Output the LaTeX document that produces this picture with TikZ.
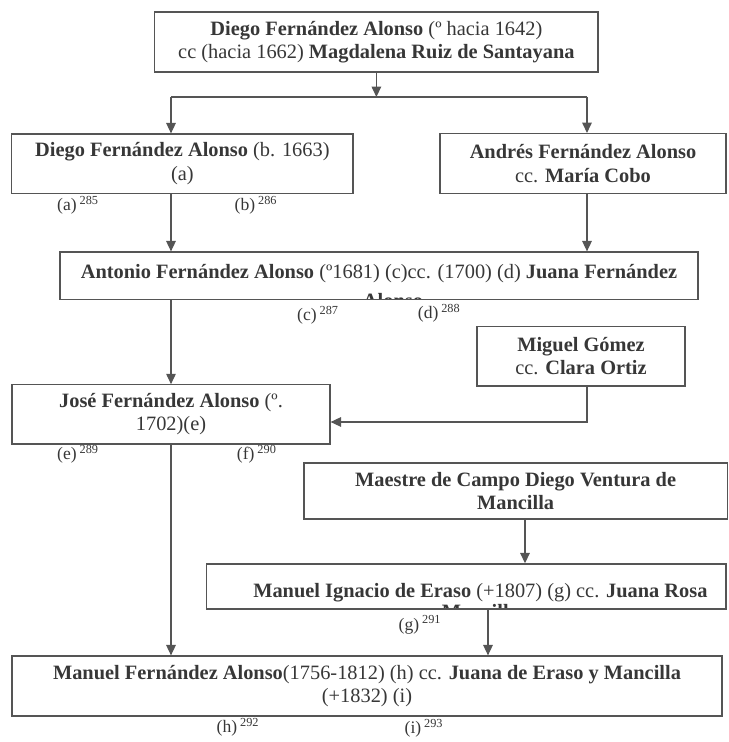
\documentclass[tikz,border=0pt]{standalone}
\usepackage{fontspec}
\setmainfont{Liberation Serif}
\usetikzlibrary{arrows.meta}
\definecolor{inkgray}{RGB}{55,55,55}
\definecolor{rulegray}{RGB}{85,85,85}

\begin{document}
\begin{tikzpicture}[
    person/.style={draw=rulegray, line width=0.9pt, text=inkgray, align=center, inner sep=0pt, font=\fontsize{14.5}{16.5}\selectfont},
    clipline/.style={text=inkgray, inner sep=0pt, anchor=base, font=\fontsize{14.5}{16.5}\selectfont},
    note/.style={text=inkgray, inner sep=0pt, font=\fontsize{12.5}{14}\selectfont},
    link/.style={draw=rulegray, line width=0.8pt, -{Triangle[length=0.26cm,width=0.24cm]}}
]
    \useasboundingbox (0,0) rectangle (18.2,18.55);

    % First couple
    \node[person, minimum width=11.08cm, minimum height=1.5cm] (diego1) at (9.41,17.5) {
        \textbf{Diego Fernández Alonso} (º hacia 1642)\\cc (hacia 1662) \textbf{Magdalena Ruiz de Santayana}
    };

    % Children
    \node[person, minimum width=8.53cm, minimum height=1.48cm] (diego2) at (4.56,14.46) {
        \textbf{Diego Fernández Alonso} (b. 1663)\\(a)
    };
    \node[person, minimum width=7.15cm, minimum height=1.5cm] (andres) at (14.575,14.46) {
        \textbf{Andrés Fernández Alonso}\\cc. \textbf{María Cobo}
    };
    \node[note] (la) at (1.95,13.42) {(a)\,\textsuperscript{285}};
    \node[note] (lb) at (6.4,13.42) {(b)\,\textsuperscript{286}};

    % Antonio (second line cut by the frame)
    \node[person, minimum width=15.95cm, minimum height=1.18cm, path picture={
        \node[clipline] at ([yshift=-0.675cm]path picture bounding box.north) {\textbf{Antonio Fernández Alonso} (º1681) (c)cc. (1700) (d) \textbf{Juana Fernández}};
        \node[clipline] at ([xshift=0.35cm,yshift=-1.40cm]path picture bounding box.north) {\textbf{Alonso}};
    }] (antonio) at (9.475,11.66) {};
    \node[note] (lc) at (7.95,10.66) {(c)\,\textsuperscript{287}};
    \node[note] (ld) at (10.98,10.72) {(d)\,\textsuperscript{288}};

    \node[person, minimum width=5.2cm, minimum height=1.48cm] (miguel) at (14.525,9.64) {
        \textbf{Miguel Gómez}\\cc. \textbf{Clara Ortiz}
    };
    \node[person, minimum width=7.95cm, minimum height=1.48cm] (jose) at (4.275,8.19) {
        \textbf{José Fernández Alonso} (º.\\1702)(e)
    };
    \node[note] (le) at (1.95,7.2) {(e)\,\textsuperscript{289}};
    \node[note] (lf) at (6.42,7.2) {(f)\,\textsuperscript{290}};

    \node[person, minimum width=10.58cm, minimum height=1.4cm] (maestre) at (12.89,6.275) {
        \textbf{Maestre de Campo Diego Ventura de}\\\textbf{Mancilla}
    };

    % Manuel Ignacio (second line cut by the frame)
    \node[person, minimum width=12.98cm, minimum height=1.125cm, path picture={
        \node[clipline] at ([xshift=0.35cm,yshift=-0.85cm]path picture bounding box.north) {\textbf{Manuel Ignacio de Eraso} (+1807) (g) cc. \textbf{Juana Rosa}};
        \node[clipline] at ([xshift=0.35cm,yshift=-1.36cm]path picture bounding box.north) {\textbf{Mancilla}};
    }] (ignacio) at (11.66,3.89) {};
    \node[note] (lg) at (10.5,2.93) {(g)\,\textsuperscript{291}};

    \node[person, minimum width=17.75cm, minimum height=1.5cm] (manuel) at (9.175,1.4) {
        \textbf{Manuel Fernández Alonso}(1756-1812) (h) cc. \textbf{Juana de Eraso y Mancilla}\\(+1832) (i)
    };
    \node[note] (lh) at (5.95,0.37) {(h)\,\textsuperscript{292}};
    \node[note] (li) at (10.6,0.35) {(i)\,\textsuperscript{293}};

    % Connectors
    \coordinate (busL) at (4.275,16.125);
    \coordinate (busR) at (14.675,16.125);
    \coordinate (join) at (14.675,8.0);
    \draw[link] (diego1.south) -- (diego1.south |- busL);
    \draw[rulegray, line width=0.8pt] (busL) -- (busR);
    \draw[link] (busL) -- (busL |- diego2.north);
    \draw[link] (busR) -- (busR |- andres.north);
    \draw[link] (busL |- diego2.south) -- (busL |- antonio.north);
    \draw[link] (busR |- andres.south) -- (busR |- antonio.north);
    \draw[link] (busL |- antonio.south) -- (busL |- jose.north);
    \draw[link] (join |- miguel.south) -- (join) -- (join -| jose.east);
    \draw[link] (busL |- jose.south) -- (busL |- manuel.north);
    \draw[link] (13.125,0 |- maestre.south) -- (13.125,0 |- ignacio.north);
    \draw[link] (12.2,0 |- ignacio.south) -- (12.2,0 |- manuel.north);
\end{tikzpicture}
\end{document}
